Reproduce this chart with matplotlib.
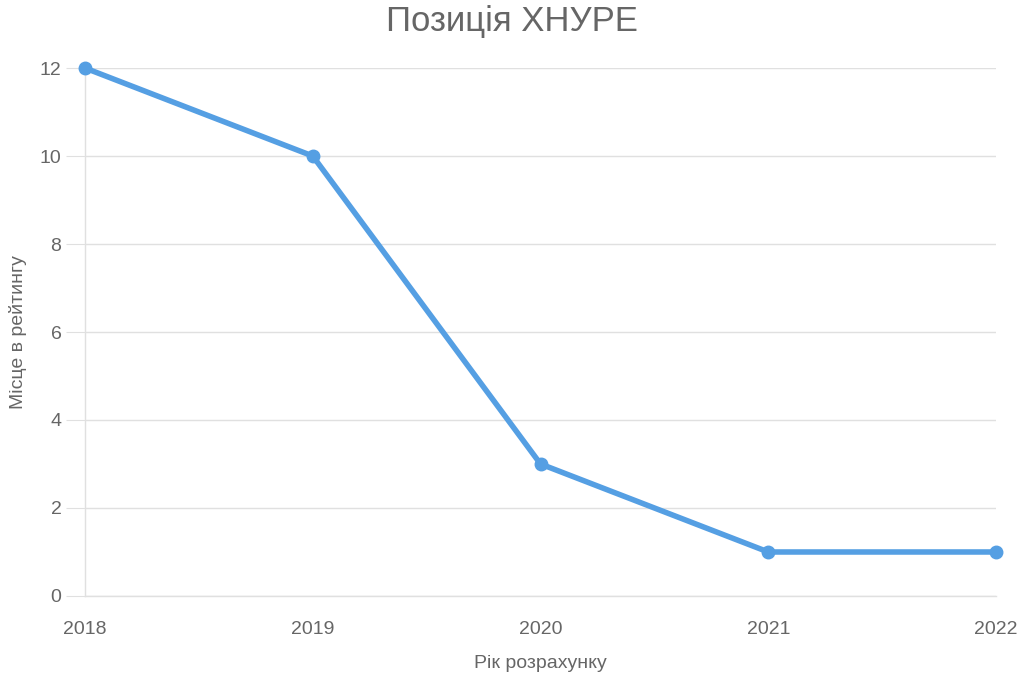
import matplotlib.pyplot as plt

plt.rcParams['font.family'] = ['Liberation Sans', 'DejaVu Sans']

# дані
years = ['2018', '2019', '2020', '2021', '2022']
places = [12, 10, 3, 1, 1]
y_ticks = [0, 2, 4, 6, 8, 10, 12]

text_color = '#666666'
grid_color = '#e0e0e0'
line_color = '#559fe3'

fig = plt.figure(figsize=(10.24, 6.83), dpi=100)
ax = fig.add_axes([0.083, 0.1274, 0.8897, 0.773])

x = list(range(len(years)))
ax.plot(x, places, color=line_color, linewidth=4, marker='o', markersize=9,
        solid_capstyle='round', zorder=3, clip_on=False)

ax.set_xlim(0, len(years) - 1)
ax.set_ylim(0, 12)
ax.set_xticks(x)
ax.set_xticklabels(years)
ax.set_yticks(y_ticks)

ax.grid(axis='y', color=grid_color, linewidth=1)
ax.set_axisbelow(True)
for side in ['top', 'right']:
    ax.spines[side].set_visible(False)
for side in ['left', 'bottom']:
    ax.spines[side].set_color(grid_color)
    ax.spines[side].set_linewidth(1)

ax.tick_params(axis='y', length=14, color=grid_color, labelsize=14,
               labelcolor=text_color, pad=3)
ax.tick_params(axis='x', length=0, labelsize=14, labelcolor=text_color, pad=18)

ax.set_xlabel('Рік розрахунку', fontsize=14, color=text_color, labelpad=12)
ax.set_ylabel('Місце в рейтингу', fontsize=14, color=text_color, labelpad=9)
fig.suptitle('Позиція ХНУРЕ', fontsize=25, color=text_color, y=0.993)

fig.savefig('out.png', dpi=100)
